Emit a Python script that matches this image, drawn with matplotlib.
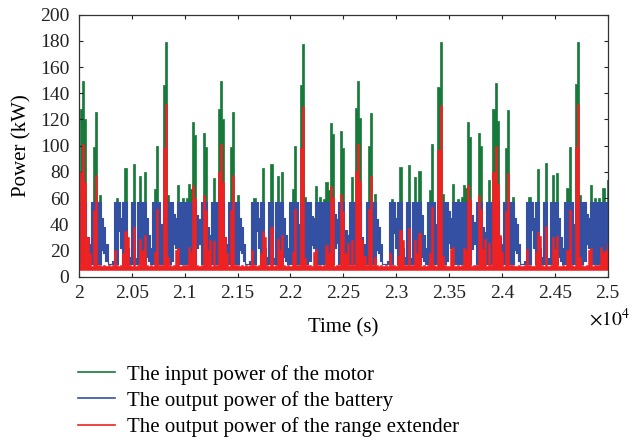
import numpy as np
import matplotlib
matplotlib.use('Agg')
import matplotlib.pyplot as plt
from matplotlib.lines import Line2D

plt.rcParams['font.family'] = ['Liberation Serif', 'DejaVu Serif']
plt.rcParams['mathtext.fontset'] = 'stix'

# the traces are very dense, so each 20 s slot keeps the span the curve covers there
t_start = 20000
t_step = 20

battery_hi = [
    57, 57, 57, 57, 30, 25, 57, 57, 57, 57, 57, 45, 38, 25, 10, 10, 12, 57, 57, 57,
    45, 57, 57, 22, 15, 57, 57, 14, 57, 57, 57, 57, 45, 32, 22, 57, 57, 57, 57, 40, 57,
    57, 57, 57, 57, 48, 45, 57, 57, 57, 57, 57, 57, 57, 57, 57, 47, 44, 57, 57, 57,
    38, 32, 57, 57, 57, 57, 57, 57, 30, 25, 57, 57, 57, 57, 57, 45, 38, 25, 10, 10,
    12, 57, 57, 57, 45, 57, 57, 22, 15, 57, 57, 14, 57, 57, 57, 57, 45, 32, 22, 57,
    57, 57, 57, 40, 57,
    57, 57, 57, 57, 46, 45, 57, 57, 57, 57, 57, 57, 57, 57, 57, 48, 44, 57, 57, 57,
    36, 32, 57, 57, 57, 57, 57, 57, 30, 25, 57, 57, 57, 57, 57, 44, 38, 25, 10, 10,
    12, 57, 57, 57, 45, 57, 57, 22, 15, 57, 57, 14, 57, 57, 57, 57, 47, 32, 22, 57,
    57, 57, 57, 40, 57,
    57, 57, 57, 57, 50, 45, 57, 57, 57, 57, 57, 57, 57, 57, 57, 47, 42, 57, 57, 57,
    38, 34, 57, 57, 57, 57, 57, 57, 30, 25, 57, 57, 57, 57, 57, 45, 40, 25, 10, 10,
    12, 57, 57, 57, 45, 57, 57, 22, 15, 57, 57, 14, 57, 57, 57, 57, 45, 30, 22, 57,
    57, 57, 57, 40, 57,
    57, 57, 57, 57, 48, 45, 57, 57, 57, 57, 57, 57, 57, 57, 57,
]

battery_lo = [
    10, 10, 10, 10, 10, 10, 10, 10, 10, 10, 10, 20, 18, 12, 10, 10, 10, 10, 10, 35,
    22, 10, 10, 10, 10, 10, 10, 10, 10, 10, 10, 10, 15, 12, 10, 10, 10, 10, 10, 10, 10,
    10, 10, 10, 12, 25, 22, 10, 10, 10, 10, 10, 10, 10, 10, 10, 22, 25, 10, 10, 10,
    14, 12, 10, 10, 10, 10, 10, 10, 10, 10, 10, 10, 10, 10, 10, 20, 18, 12, 10, 10,
    10, 10, 10, 35, 22, 10, 10, 10, 10, 10, 10, 10, 10, 10, 10, 10, 15, 12, 10, 10,
    10, 10, 10, 10, 10,
    10, 10, 10, 12, 24, 22, 10, 10, 10, 10, 10, 10, 10, 10, 10, 22, 26, 10, 10, 10,
    14, 12, 10, 10, 10, 10, 10, 10, 10, 10, 10, 10, 10, 10, 10, 20, 18, 12, 10, 10,
    10, 10, 10, 33, 22, 10, 10, 10, 10, 10, 10, 10, 10, 10, 10, 10, 15, 12, 10, 10,
    10, 10, 10, 10, 10,
    10, 10, 10, 12, 26, 22, 10, 10, 10, 10, 10, 10, 10, 10, 10, 21, 25, 10, 10, 10,
    14, 12, 10, 10, 10, 10, 10, 10, 10, 10, 10, 10, 10, 10, 10, 20, 18, 12, 10, 10,
    10, 10, 10, 36, 22, 10, 10, 10, 10, 10, 10, 10, 10, 10, 10, 10, 15, 12, 10, 10,
    10, 10, 10, 10, 10,
    10, 10, 10, 12, 25, 22, 10, 10, 10, 10, 10, 10, 10, 10, 10,
]

motor = [
    57, 128, 149, 120, 30, 25, 57, 99, 126, 57, 62, 45, 38, 25, 10, 10, 12, 57, 60, 57,
    45, 57, 83, 22, 15, 57, 86, 14, 57, 77, 57, 80, 45, 32, 22, 57, 67, 100, 57, 40, 146,
    179, 62, 57, 57, 48, 45, 70, 57, 60, 57, 60, 71, 67, 118, 108, 47, 44, 57, 110, 99,
    38, 32, 57, 75, 57, 128, 149, 120, 30, 25, 57, 99, 126, 57, 62, 45, 38, 25, 10, 10,
    12, 57, 60, 57, 45, 57, 83, 22, 15, 57, 86, 14, 57, 77, 57, 80, 45, 32, 22, 57,
    67, 100, 57, 40, 146,
    178, 61, 57, 57, 46, 45, 69, 57, 61, 57, 59, 72, 66, 117, 109, 48, 44, 57, 111, 98,
    36, 32, 57, 76, 57, 129, 149, 121, 30, 25, 57, 100, 125, 57, 63, 44, 38, 25, 10, 10,
    12, 57, 59, 57, 45, 57, 84, 22, 15, 57, 85, 14, 57, 76, 57, 81, 47, 32, 22, 57,
    66, 101, 57, 40, 145,
    179, 63, 57, 57, 50, 45, 71, 57, 59, 57, 61, 70, 68, 118, 107, 47, 42, 57, 110, 100,
    38, 34, 57, 74, 57, 128, 148, 119, 30, 25, 57, 98, 127, 57, 61, 45, 40, 25, 10, 10,
    12, 57, 61, 57, 45, 57, 82, 22, 15, 57, 87, 14, 57, 78, 57, 79, 45, 30, 22, 57,
    68, 99, 57, 40, 147,
    179, 62, 57, 57, 48, 45, 70, 57, 60, 57, 60, 57, 68, 57, 74,
]

extender = [
    9, 80, 101, 72, 30, 18, 8, 51, 78, 9, 9, 8, 9, 8, 9, 8, 9, 20, 9, 8,
    9, 18, 35, 30, 9, 8, 38, 8, 9, 29, 20, 32, 9, 8, 9, 8, 19, 52, 9, 9, 98,
    132, 15, 9, 8, 9, 20, 22, 8, 9, 9, 9, 23, 19, 70, 60, 9, 8, 9, 62, 51,
    20, 28, 8, 27, 9, 80, 101, 72, 30, 18, 8, 51, 78, 9, 9, 8, 9, 8, 9, 8,
    9, 20, 9, 8, 9, 18, 35, 30, 9, 8, 38, 8, 9, 29, 20, 32, 9, 8, 9, 8,
    19, 52, 9, 9, 98,
    130, 14, 9, 9, 8, 19, 21, 9, 9, 8, 9, 24, 18, 69, 61, 8, 9, 9, 63, 50,
    18, 26, 9, 28, 9, 81, 101, 73, 28, 16, 9, 52, 77, 9, 15, 9, 8, 9, 8, 9,
    8, 18, 9, 9, 8, 16, 36, 28, 9, 9, 37, 9, 9, 28, 18, 33, 8, 9, 8, 9,
    18, 53, 9, 8, 97,
    131, 16, 9, 8, 8, 21, 23, 8, 9, 8, 9, 22, 20, 70, 59, 8, 9, 9, 62, 52,
    21, 29, 8, 26, 9, 80, 100, 71, 32, 19, 8, 50, 79, 9, 9, 8, 8, 9, 8, 8,
    9, 21, 9, 8, 8, 19, 34, 31, 9, 8, 39, 8, 9, 30, 21, 31, 8, 8, 9, 8,
    20, 51, 9, 8, 99,
    132, 15, 9, 8, 9, 20, 22, 8, 9, 9, 9, 23, 19, 20, 26,
]
extender_floor = 5

xticks = [20000, 20500, 21000, 21500, 22000, 22500, 23000, 23500, 24000, 24500, 25000]
xtick_labels = ['2', '2.05', '2.1', '2.15', '2.2', '2.25', '2.3', '2.35', '2.4', '2.45', '2.5']
yticks = [0, 20, 40, 60, 80, 100, 120, 140, 160, 180, 200]
labels = ['The input power of the motor',
          'The output power of the battery',
          'The output power of the range extender']
c_motor = '#17793a'
c_batt = '#3350a3'
c_ext = '#ee2222'

t = t_start + t_step * np.arange(len(battery_hi))

fig = plt.figure(figsize=(6.32, 4.41), dpi=100)
ax = fig.add_axes([0.125, 0.3726, 0.8366, 0.5941])

ax.fill_between(t, battery_lo, motor, step='mid', color=c_motor, lw=0.5, zorder=1)
ax.fill_between(t, battery_lo, battery_hi, step='mid', color=c_batt, lw=0.8, zorder=2)
ax.fill_between(t, extender_floor, extender, step='mid', color=c_ext, lw=0.4, zorder=3)

ax.set_xlim(20000, 25000)
ax.set_ylim(0, 200)
ax.set_xticks(xticks)
ax.set_xticklabels(xtick_labels)
ax.set_yticks(yticks)
ax.tick_params(direction='in', length=3, width=0.8, top=True, right=True,
               labelsize=14, colors='#222222')
ax.tick_params(axis='x', pad=6)
ax.tick_params(axis='y', pad=7)
for s in ax.spines.values():
    s.set_color('#333333')
    s.set_linewidth(0.9)
    s.set_zorder(5)

ax.set_xlabel('Time (s)', fontsize=15, labelpad=12)
ax.set_ylabel('Power (kW)', fontsize=15, labelpad=6)
fig.text(0.932, 0.278, r'$\times10^{4}$', fontsize=14, ha='left', va='center')

handles = [Line2D([], [], color=c, lw=1.2) for c in (c_motor, c_batt, c_ext)]
fig.legend(handles, labels, loc='upper left', bbox_to_anchor=(0.11, 0.192),
           bbox_transform=fig.transFigure, frameon=False, fontsize=15,
           handlelength=1.8, handletextpad=0.55, labelspacing=0.3, borderaxespad=0)

fig.savefig('out.png', dpi=100)
